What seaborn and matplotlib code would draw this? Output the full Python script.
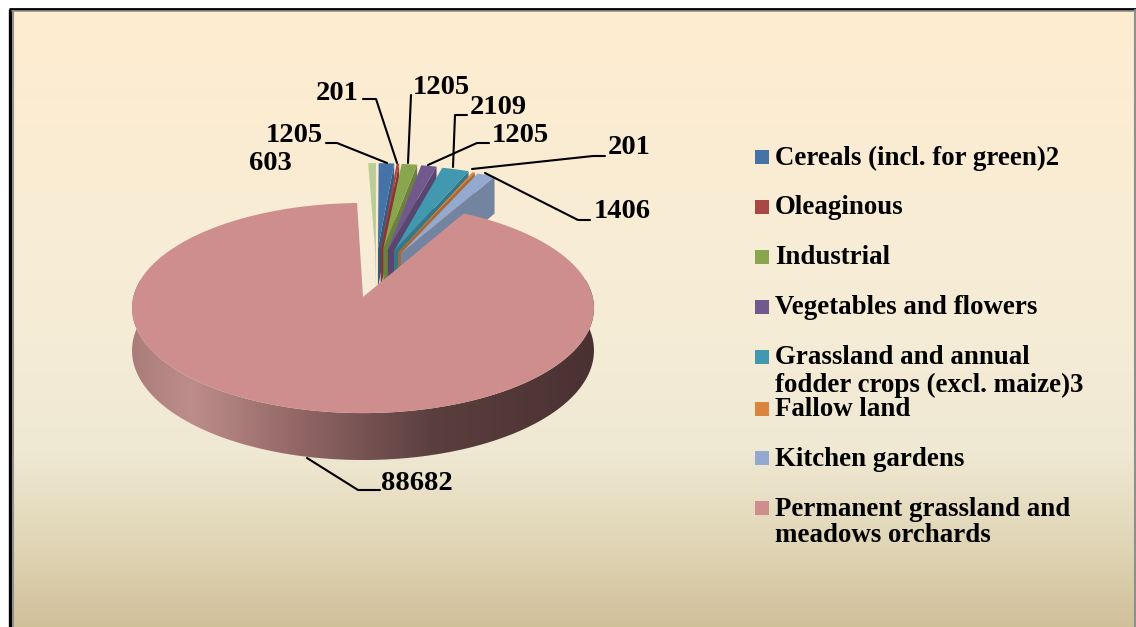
import numpy as np
import matplotlib
matplotlib.use("Agg")
import matplotlib.pyplot as plt
from matplotlib.colors import LinearSegmentedColormap, to_rgb
from matplotlib.patches import Polygon, Rectangle
import seaborn as sns

# Data, in pie order (clockwise)
values = [1205, 201, 1205, 1205, 2109, 201, 1406, 88682, 603]
value_labels = ["1205", "201", "1205", "1205", "2109", "201", "1406", "88682", "603"]
legend_names = [
    "Cereals (incl. for green)2",
    "Oleaginous",
    "Industrial",
    "Vegetables and flowers",
    "Grassland and annual\nfodder crops (excl. maize)3",
    "Fallow land",
    "Kitchen gardens",
    "Permanent grassland and\nmeadows orchards",
]
slice_colors = ["#4572a7", "#aa4643", "#89a54e", "#71588f", "#4198af",
                "#db843d", "#93a9cf", "#ce8e8e", "#b9cd96"]

sns.set_theme(style="white")
plt.rcParams["font.family"] = ["Liberation Serif", "DejaVu Serif"]
plt.rcParams["font.weight"] = "bold"

fig = plt.figure(figsize=(11.36, 6.27), dpi=100, facecolor="white")
ax = fig.add_axes([0, 0, 1, 1])
ax.set_axis_off()

# background gradient inside the frame
bg_cmap = LinearSegmentedColormap.from_list("bg", [
    (0.0, "#feecd0"), (0.5, "#f6edd7"), (0.72, "#efe8d2"),
    (0.87, "#e0d5b5"), (1.0, "#d0c09a")])
ax.imshow(np.linspace(0, 1, 256).reshape(-1, 1), cmap=bg_cmap, aspect="auto",
          extent=(12, 1134, 627, 10), zorder=0)

# frame: black outer edge with a grey inner line
ax.plot([10, 10], [627, 9], color="black", lw=2.4, solid_capstyle="butt", zorder=1)
ax.plot([9, 1136], [9, 9], color="black", lw=2.0, solid_capstyle="butt", zorder=1)
ax.plot([12.5, 12.5], [627, 10.5], color="#8f8f8f", lw=1.5, zorder=1)
ax.plot([12, 1136], [10.8, 10.8], color="#8f8f8f", lw=1.2, zorder=1)
ax.plot([1134.5, 1134.5], [10, 627], color="#8f8f8f", lw=1.5, zorder=1)

# fake 3D projection of the pie disk
CX, CY, RX, RY, K = 363, 297, 229.7, 103.9, 0.105
DEPTH = 42


def project(u, v, drop=0.0):
    s = 1 / (1 + K * np.asarray(v))
    return np.column_stack([CX + RX * np.asarray(u) * s,
                            CY - RY * np.asarray(v) * s + drop * s])


fractions = np.array(values) / sum(values)
START = np.radians(0.6)
edges = START + np.concatenate([[0], np.cumsum(fractions)]) * 2 * np.pi
PINK = 7


def arc(a0, a1, apex=(0.0, 0.0), n=2):
    t = np.linspace(a0, a1, n)
    return apex[0] + np.sin(t), apex[1] + np.cos(t)


def shade(color, f):
    return tuple(c * f for c in to_rgb(color))


# exploded small slices, painted left to right
EXPLODE = 0.49
order = [8, 0, 1, 2, 3, 4, 5, 6]
for i in order:
    a0, a1 = edges[i], edges[i + 1]
    mid = (a0 + a1) / 2
    apex = (0.055 + 0.55 * EXPLODE * np.sin(mid if i != 8 else 0),
            EXPLODE * np.cos(mid))
    u, v = arc(a0, a1, apex, 12)
    top = project(np.r_[apex[0], u], np.r_[apex[1], v])
    # visible radial wall
    wu, wv = [apex[0], u[-1]], [apex[1], v[-1]]
    wall = np.vstack([project(wu, wv), project(wu, wv, DEPTH)[::-1]])
    ax.add_patch(Polygon(wall, closed=True, fc=shade(slice_colors[i], 0.78),
                         ec="none", zorder=3))
    ax.add_patch(Polygon(top, closed=True, fc=slice_colors[i], ec="none", zorder=3))

# big slice rim with a horizontal gradient
a0, a1 = edges[PINK], edges[PINK + 1]
t = np.linspace(np.radians(80), np.radians(280), 200)
rim = np.vstack([project(np.sin(t), np.cos(t)),
                 project(np.sin(t), np.cos(t), DEPTH)[::-1]])
rim_patch = Polygon(rim, closed=True, fc="none", ec="none", zorder=4)
ax.add_patch(rim_patch)
rim_cmap = LinearSegmentedColormap.from_list("rim", [
    (0.0, "#a97c7a"), (0.13, "#bd8d8b"), (0.38, "#8e6463"),
    (0.65, "#5b3f3f"), (1.0, "#4a3131")])
im = ax.imshow(np.linspace(0, 1, 256).reshape(1, -1), cmap=rim_cmap, aspect="auto",
               extent=(130, 596, 470, 280), zorder=4)
im.set_clip_path(rim_patch)

# big slice top face
u, v = arc(a0, a1, (0, 0), 240)
ax.add_patch(Polygon(project(np.r_[0, u], np.r_[0, v]), closed=True,
                     fc=slice_colors[PINK], ec="none", zorder=5))

# value labels and leader lines (pixel layout)
label_xy = [(294, 135), (337, 93), (441, 87), (520, 135), (498, 107),
            (629, 148), (622, 212), (417, 484), (270, 163)]
leaders = [
    [(326, 143), (337, 143), (387, 163)],
    [(363, 99), (376, 99), (397, 163)],
    [(411, 95), (408, 163)],
    [(489, 143), (477, 143), (428, 165)],
    [(467, 115), (455, 115), (453, 167)],
    [(605, 156), (593, 156), (472, 169)],
    [(590, 220), (578, 220), (485, 173)],
    [(380, 490), (358, 490), (307, 458)],
    None,
]
for text, xy, line in zip(value_labels, label_xy, leaders):
    ax.text(xy[0], xy[1], text, fontsize=20.5, color="black", ha="center",
            va="center", zorder=7)
    if line is not None:
        xs, ys = zip(*line)
        ax.plot(xs, ys, color="black", lw=1.5, zorder=6)

# legend, laid out by hand since wrapped entries overlap the next one
legend_y = [157, 207, 257, 307, 357, 409, 458, 508]
for name, color, y in zip(legend_names, slice_colors, legend_y):
    ax.add_patch(Rectangle((755, y - 7), 14, 14, fc=color, ec="none", zorder=6))
    ax.text(775, y + 1, name.split("\n")[0], fontsize=19.4, va="center", color="black", zorder=7)
    if "\n" in name:
        ax.text(775, y + 28, name.split("\n")[1], fontsize=19.4, va="center",
                color="black", zorder=7)

ax.set_xlim(0, 1136)
ax.set_ylim(627, 0)
fig.savefig("out.png", dpi=100, facecolor="white")
